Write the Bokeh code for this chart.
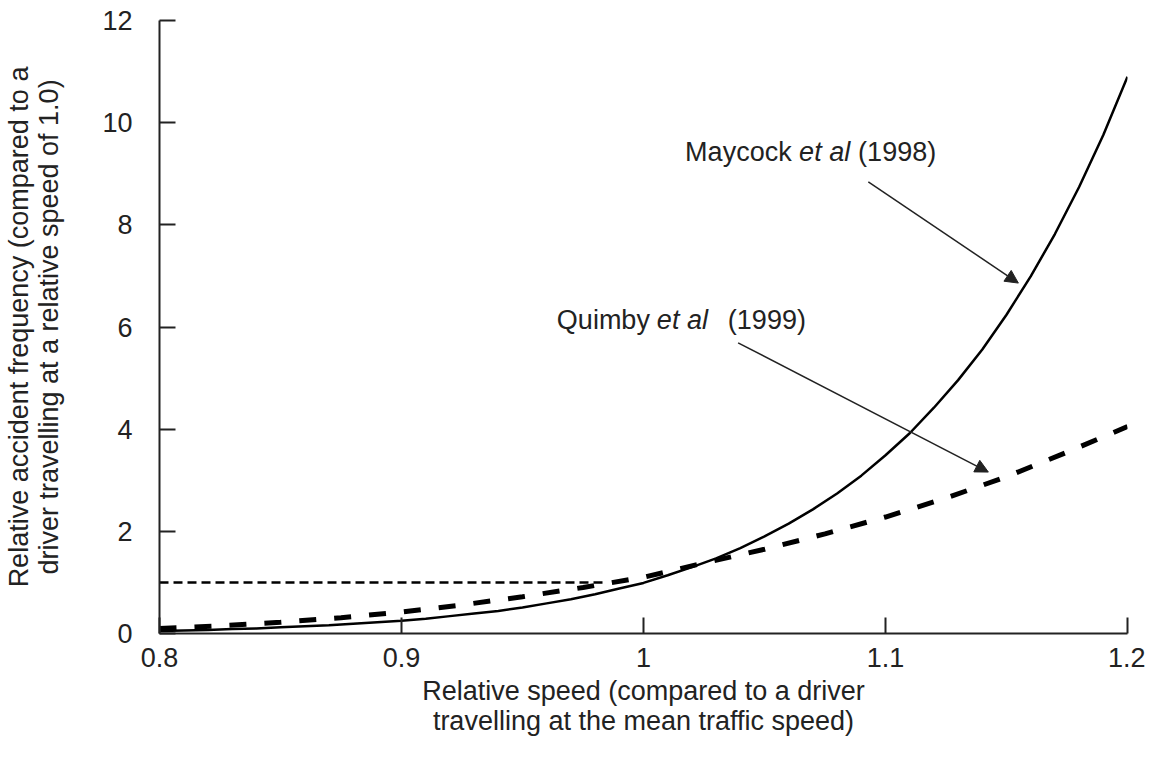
from bokeh.plotting import figure
from bokeh.models import Label, Arrow, NormalHead, FixedTicker, CustomJSTickFormatter, Range1d
from bokeh.embed import file_html
from bokeh.resources import INLINE

# ---- data ----
speed_m = [0.80, 0.81, 0.82, 0.83, 0.84, 0.85, 0.86, 0.87, 0.88, 0.89, 0.90,
           0.91, 0.92, 0.93, 0.94, 0.95, 0.96, 0.97, 0.98, 0.99, 1.00,
           1.01, 1.02, 1.03, 1.04, 1.05, 1.06, 1.07, 1.08, 1.09, 1.10,
           1.11, 1.12, 1.13, 1.14, 1.15, 1.16, 1.17, 1.18, 1.19, 1.20]
maycock = [0.05, 0.06, 0.07, 0.09, 0.10, 0.12, 0.14, 0.16, 0.19, 0.22, 0.25,
           0.29, 0.34, 0.39, 0.44, 0.51, 0.59, 0.67, 0.77, 0.88, 0.99,
           1.14, 1.30, 1.47, 1.67, 1.90, 2.15, 2.43, 2.74, 3.09, 3.49,
           3.92, 4.42, 4.96, 5.56, 6.24, 6.99, 7.82, 8.74, 9.76, 10.9]
speed_q = [0.8, 0.825, 0.85, 0.875, 0.9, 0.925, 0.95, 0.975, 1.0, 1.025, 1.05,
           1.075, 1.1, 1.125, 1.15, 1.175, 1.2]
quimby = [0.1, 0.15, 0.22, 0.31, 0.42, 0.56, 0.72, 0.9, 1.1, 1.38, 1.65,
          1.95, 2.28, 2.65, 3.07, 3.55, 4.05]
ref_x = [0.8, 0.985]
ref_y = [1.0, 1.0]
x_ticks = [0.8, 0.9, 1.0, 1.1, 1.2]
y_ticks = [0, 2, 4, 6, 8, 10, 12]

FONT = "Liberation Sans"
TXT = "#222222"
FS = "27px"

p = figure(width=1145, height=745, output_backend="svg", toolbar_location=None,
           x_range=Range1d(0.8, 1.2), y_range=Range1d(0, 12),
           min_border_left=159, min_border_right=18, min_border_top=20,
           min_border_bottom=112)
p.outline_line_color = None
p.xgrid.visible = False
p.ygrid.visible = False
p.background_fill_color = "white"
p.border_fill_color = "white"

for ax in (p.xaxis[0], p.yaxis[0]):
    ax.axis_line_color = TXT
    ax.axis_line_width = 2
    ax.major_tick_line_color = TXT
    ax.major_tick_line_width = 2
    ax.major_tick_in = 16
    ax.major_tick_out = 0
    ax.minor_tick_line_color = None
    ax.major_label_text_font = FONT
    ax.major_label_text_font_size = FS
    ax.major_label_text_color = TXT
    ax.axis_label_text_font = FONT
    ax.axis_label_text_font_size = FS
    ax.axis_label_text_font_style = "normal"
    ax.axis_label_text_color = TXT
    ax.axis_label_text_line_height = 1.0

p.xaxis.ticker = FixedTicker(ticks=x_ticks)
p.yaxis.ticker = FixedTicker(ticks=y_ticks)
p.xaxis.formatter = CustomJSTickFormatter(code="return String(Math.round(tick*10)/10);")
p.yaxis.formatter = CustomJSTickFormatter(code="return String(tick);")
p.xaxis.major_label_standoff = 14
p.yaxis.major_label_standoff = 27
p.xaxis.axis_label = "Relative speed (compared to a driver\ntravelling at the mean traffic speed)"
p.yaxis.axis_label = "Relative accident frequency (compared to a\ndriver travelling at a relative speed of 1.0)"
p.xaxis.axis_label_standoff = 6
p.yaxis.axis_label_standoff = 35

# reference line at relative frequency 1.0
p.line(ref_x, ref_y, line_color="black", line_width=2.5, line_dash="9 5")
# Quimby et al (1999)
p.line(speed_q, quimby, line_color="black", line_width=5, line_dash="17 18")
# Maycock et al (1998)
p.line(speed_m, maycock, line_color="black", line_width=2.5)

def add_label(x, y, parts):
    for text, style, off in parts:
        p.add_layout(Label(x=x, y=y, x_offset=off, text=text, text_font=FONT,
                           text_font_size=FS, text_font_style=style,
                           text_color=TXT, text_baseline="middle", text_align="left"))

add_label(1.0172, 9.43, [("Maycock", "normal", 0), ("et al", "italic", 114),
                         ("(1998)", "normal", 173)])
add_label(0.9642, 6.14, [("Quimby", "normal", 0), ("et al", "italic", 100),
                         ("(1999)", "normal", 171)])

p.add_layout(Arrow(end=NormalHead(size=13, fill_color=TXT, line_color=TXT),
                   x_start=1.0929, y_start=8.84, x_end=1.1549, y_end=6.86,
                   line_color=TXT, line_width=1.5))
p.add_layout(Arrow(end=NormalHead(size=13, fill_color=TXT, line_color=TXT),
                   x_start=1.0391, y_start=5.69, x_end=1.1425, y_end=3.16,
                   line_color=TXT, line_width=1.5))

open("out.html", "w").write(file_html(p, INLINE))
